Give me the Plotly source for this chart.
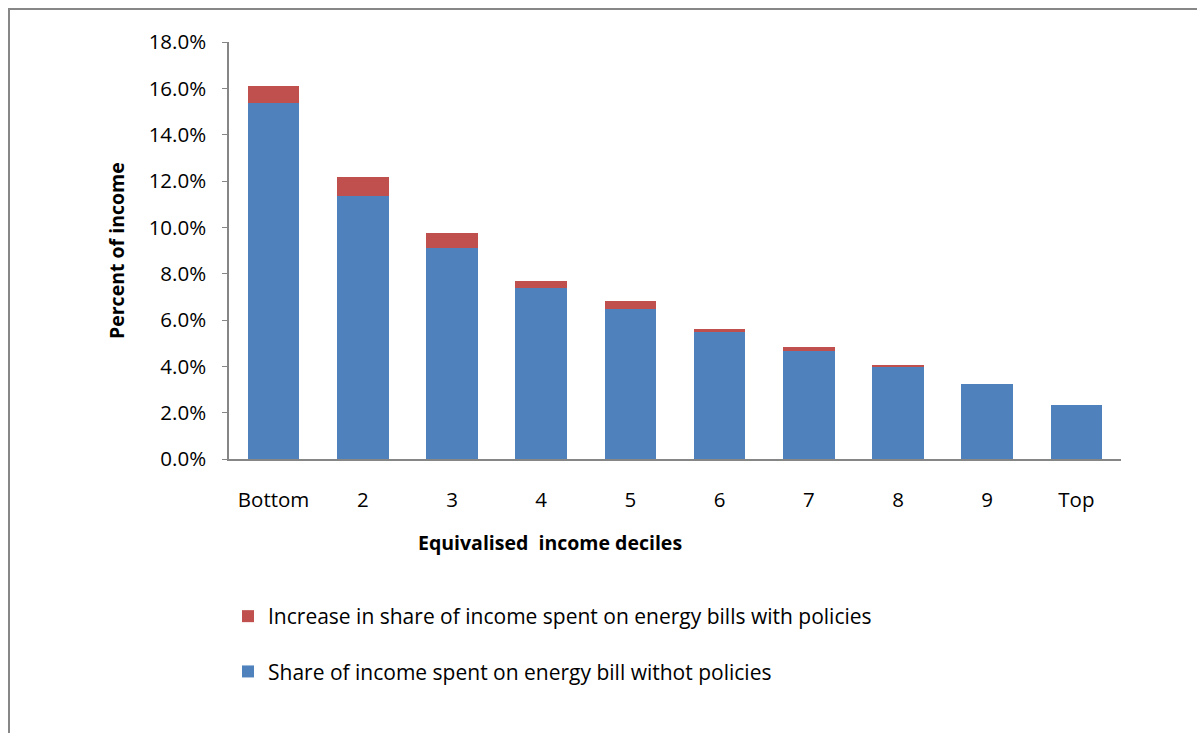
import plotly.graph_objects as go

# Equivalised income deciles
deciles = ["Bottom", "2", "3", "4", "5", "6", "7", "8", "9", "Top"]

# Share of income spent on energy bills (percent)
share_without_policies = [15.35, 11.37, 9.09, 7.38, 6.49, 5.49, 4.67, 3.98, 3.25, 2.32]
increase_with_policies = [0.77, 0.82, 0.65, 0.31, 0.33, 0.14, 0.18, 0.06, 0.0, 0.0]

BLUE = "#4F81BD"
RED = "#C0504D"
AXIS = "#868686"
FONT = "'Open Sans', Lato, sans-serif"

W, H = 1197, 733
L, R, T, B = 229, 76, 42, 274
pw, ph = W - L - R, H - T - B


def px_x(p):
    return (p - L) / pw


def px_y(p):
    return (H - B - p) / ph


fig = go.Figure()
fig.add_trace(go.Bar(
    x=deciles,
    y=[v / 100 for v in share_without_policies],
    name="Share of income spent on energy bill withot policies",
    marker=dict(color=BLUE, line=dict(width=0)),
    legendgroup="base",
    legendrank=2,
))
fig.add_trace(go.Bar(
    x=deciles,
    y=[v / 100 for v in increase_with_policies],
    name="Increase in share of income spent on energy bills with policies",
    marker=dict(color=RED, line=dict(width=0)),
    legendgroup="increase",
    legendrank=1,
))

fig.update_layout(
    width=W,
    height=H,
    margin=dict(l=L, r=R, t=T, b=B),
    paper_bgcolor="white",
    plot_bgcolor="white",
    barmode="stack",
    bargap=0.42,
    font=dict(family=FONT, size=20, color="#000000"),
    showlegend=True,
    legend=dict(
        x=px_x(228),
        y=px_y(596),
        xanchor="left",
        yanchor="top",
        traceorder="grouped",
        tracegroupgap=25,
        font=dict(family=FONT, size=21, color="#000000"),
        bgcolor="rgba(0,0,0,0)",
    ),
    xaxis=dict(
        showline=True,
        linecolor=AXIS,
        linewidth=1.5,
        ticks="",
        showgrid=False,
        ticklabelstandoff=22,
        tickfont=dict(size=20.5),
    ),
    yaxis=dict(
        range=[0, 0.18],
        dtick=0.02,
        tickformat=".1%",
        showline=True,
        linecolor=AXIS,
        linewidth=1.5,
        ticks="outside",
        ticklen=5,
        tickcolor=AXIS,
        showgrid=False,
        zeroline=False,
        ticklabelstandoff=12,
        tickfont=dict(size=20.5),
    ),
    annotations=[
        dict(
            text="<b>Percent of income</b>",
            xref="paper", yref="paper",
            x=px_x(116), y=px_y(251),
            xanchor="center", yanchor="middle",
            textangle=-90,
            showarrow=False,
            font=dict(size=19.5),
        ),
        dict(
            text="<b>Equivalised  income deciles</b>",
            xref="paper", yref="paper",
            x=px_x(550), y=px_y(542),
            xanchor="center", yanchor="middle",
            showarrow=False,
            font=dict(size=19.5),
        ),
    ],
    shapes=[
        # outer chart frame
        dict(
            type="rect",
            xref="paper", yref="paper",
            x0=px_x(9), x1=px_x(1215),
            y0=px_y(760), y1=px_y(9),
            line=dict(color="#878787", width=2),
            fillcolor="rgba(0,0,0,0)",
            layer="below",
        ),
    ],
)

fig.write_html("out.html")
